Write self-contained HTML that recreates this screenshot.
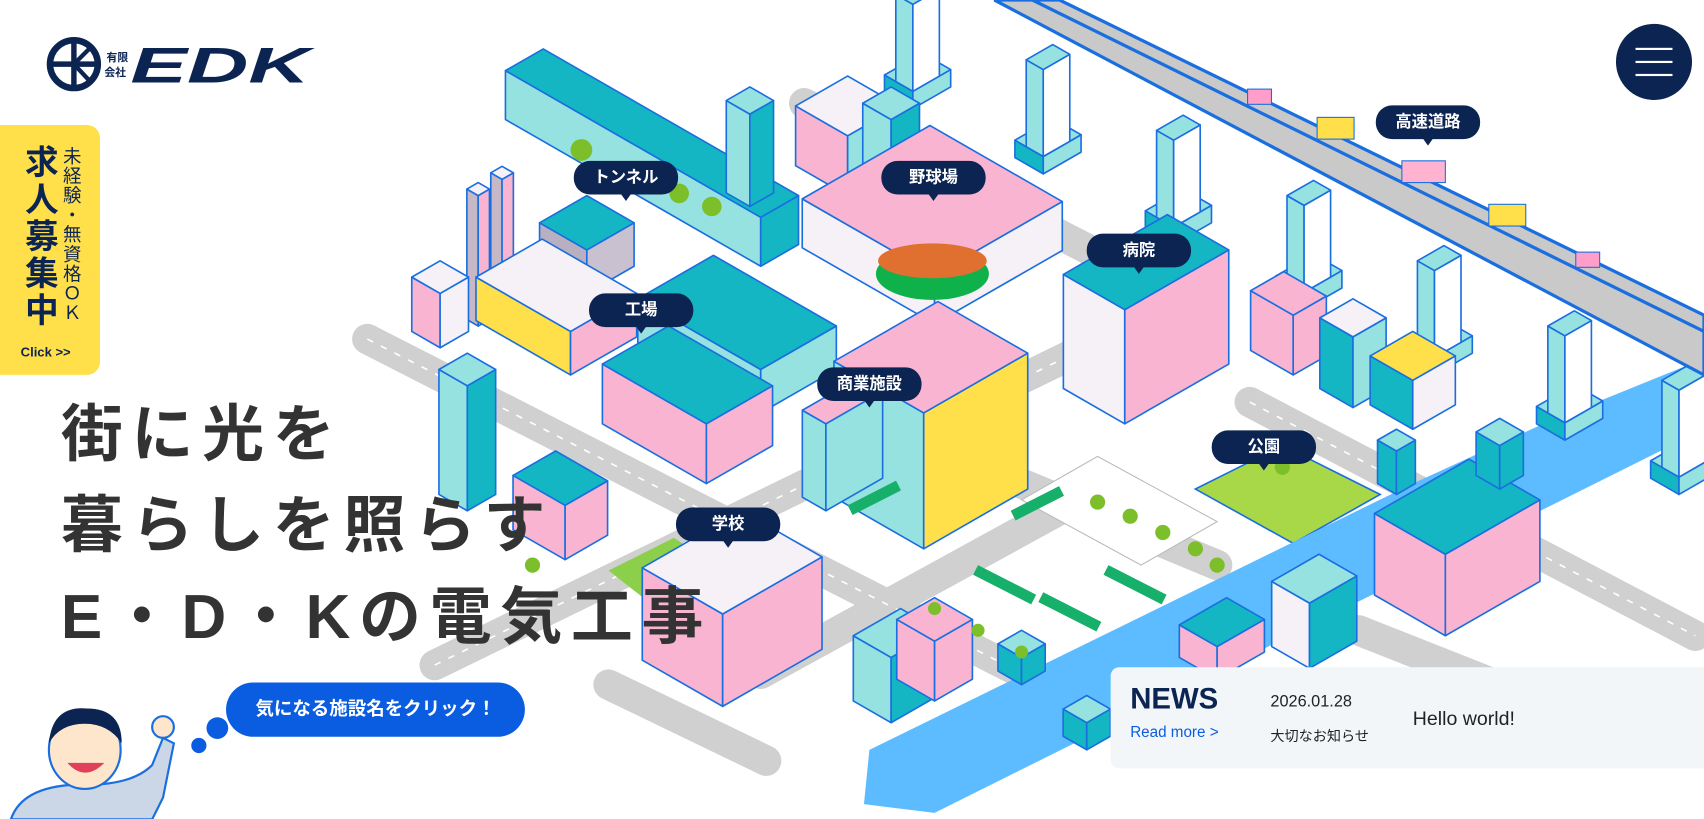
<!DOCTYPE html>
<html><head><meta charset="utf-8">
<style>
html,body{margin:0;padding:0;width:1704px;height:819px;overflow:hidden;background:#fff}
#s{position:absolute;left:0;top:0;width:1568px;height:754px;transform:scale(1.08673);transform-origin:0 0;font-family:"Liberation Sans","Noto Sans CJK JP",sans-serif}
svg{position:absolute;left:0;top:0}
.lbl{position:absolute;width:96px;height:31px;margin-left:-48px;background:#0c2452;color:#fff;border-radius:15px;font-size:15px;font-weight:bold;text-align:center;line-height:31px}
.lbl:after{content:"";position:absolute;left:43px;bottom:-6px;border-left:5px solid transparent;border-right:5px solid transparent;border-top:7px solid #0c2452}
</style></head><body>
<div id="s">
<svg id="g" width="1568" height="754" viewBox="0 0 1568 754">
<g stroke="#d0d0d0" stroke-linecap="round" fill="none" stroke-width="28">
<path d="M338 312 L1000 650"/>
<path d="M740 95 L1090 275"/>
<path d="M400 612 L1040 300"/>
<path d="M560 630 L705 700"/>
<path d="M1150 370 L1560 585"/>
<path d="M1250 580 L1440 655"/>
<path d="M700 620 L1010 450"/>
<path d="M880 420 L1120 520"/>
</g>
<g stroke="#fff" stroke-width="1.5" stroke-dasharray="6 8" fill="none">
<path d="M338 312 L1000 650"/><path d="M400 612 L1040 300"/><path d="M1150 370 L1560 585"/>
</g>
<polygon points="940,460 1010,420 1120,480 1050,520" fill="#fff" stroke="#bbb"/>
<polygon points="1100,450 1180,410 1270,455 1190,500" fill="#a8d848" stroke="#1a6fe0" stroke-width="1.5"/>
<polygon points="560,525 620,495 690,540 630,580" fill="#8ccf4a"/>
<polygon points="795,740 860,748 1568,395 1568,330 1420,390 1300,445 800,690" fill="#5cbcff"/>
<g id="hw"></g>
<polygon points="915,0 975,0 1568,290 1568,345" fill="#c9c9c9" stroke="#1a6fe0" stroke-width="3"/>
<line x1="950" y1="0" x2="1568" y2="305" stroke="#1a6fe0" stroke-width="3"/>
<g id="bx"></g>
<ellipse cx="858" cy="252" rx="52" ry="24" fill="#0fb24a"/>
<ellipse cx="858" cy="240" rx="50" ry="16" fill="#e07030"/>
<g fill="#7cbf2a"><circle cx="535" cy="138" r="10"/><circle cx="625" cy="178" r="9"/><circle cx="655" cy="190" r="9"/><circle cx="1010" cy="462" r="7"/><circle cx="1040" cy="475" r="7"/><circle cx="1070" cy="490" r="7"/><circle cx="1100" cy="505" r="7"/><circle cx="1120" cy="520" r="7"/><circle cx="860" cy="560" r="6"/><circle cx="900" cy="580" r="6"/><circle cx="940" cy="600" r="6"/><circle cx="490" cy="520" r="7"/><circle cx="1180" cy="430" r="7"/></g>
<g fill="#16b06a"><rect x="900" y="520" width="60" height="10" transform="rotate(27 900 520)"/><rect x="960" y="545" width="60" height="10" transform="rotate(27 960 545)"/><rect x="1020" y="520" width="60" height="10" transform="rotate(27 1020 520)"/><rect x="930" y="470" width="50" height="10" transform="rotate(-27 930 470)"/><rect x="780" y="465" width="50" height="10" transform="rotate(-27 780 465)"/></g>
<g fill="#ff9ec8" stroke="#1a6fe0"><rect x="1148" y="82" width="22" height="14"/><rect x="1290" y="148" width="40" height="20" fill="#ffb3d0"/><rect x="1450" y="232" width="22" height="14"/></g>
<g fill="#ffe04a" stroke="#1a6fe0"><rect x="1212" y="108" width="34" height="20"/><rect x="1370" y="188" width="34" height="20"/></g>
</svg>
<div class="lbl" style="left:576px;top:148px">トンネル</div>
<div class="lbl" style="left:859px;top:148px">野球場</div>
<div class="lbl" style="left:1314px;top:97px">高速道路</div>
<div class="lbl" style="left:1048px;top:215px">病院</div>
<div class="lbl" style="left:590px;top:270px">工場</div>
<div class="lbl" style="left:800px;top:338px">商業施設</div>
<div class="lbl" style="left:1163px;top:396px">公園</div>
<div class="lbl" style="left:670px;top:467px">学校</div>

<svg width="300" height="100" style="left:36px;top:26px">
<circle cx="32" cy="33" r="22" fill="none" stroke="#0c2452" stroke-width="6"/>
<line x1="10" y1="33" x2="54" y2="33" stroke="#0c2452" stroke-width="5"/>
<line x1="32" y1="11" x2="32" y2="55" stroke="#0c2452" stroke-width="5"/>
<line x1="32" y1="33" x2="48" y2="17" stroke="#0c2452" stroke-width="4"/>
<line x1="32" y1="33" x2="48" y2="50" stroke="#0c2452" stroke-width="4"/>
<text x="62" y="30" font-size="10" font-weight="bold" fill="#0c2452" font-family="Noto Sans CJK JP,sans-serif">有限</text>
<text x="60" y="44" font-size="10" font-weight="bold" fill="#0c2452" font-family="Noto Sans CJK JP,sans-serif">会社</text>
<text x="84" y="50" font-size="46" font-weight="bold" font-style="italic" fill="#0c2452" font-family="Liberation Sans,sans-serif" textLength="165" lengthAdjust="spacingAndGlyphs">EDK</text>
</svg>

<div style="position:absolute;left:0;top:115px;width:92px;height:230px;background:#ffe04a;border-radius:0 12px 12px 0">
<div style="position:absolute;left:18px;top:18px;writing-mode:vertical-rl;font-size:31px;font-weight:bold;color:#0c2452;letter-spacing:3px;line-height:34px">求人募集中</div>
<div style="position:absolute;left:54px;top:20px;writing-mode:vertical-rl;font-size:17px;color:#0c2452;line-height:20px;letter-spacing:1px">未経験・無資格ＯＫ</div>
<div style="position:absolute;left:19px;top:202px;font-size:12px;font-weight:bold;color:#0c2452">Click &gt;&gt;</div>
</div>

<div style="position:absolute;left:56px;top:358px;font-size:57px;font-weight:bold;color:#333;line-height:84px;letter-spacing:8px;font-family:'Liberation Sans','Noto Sans CJK JP',sans-serif;white-space:nowrap">街に光を<br>暮らしを照らす<br>E・D・Kの電気工事</div>

<div style="position:absolute;left:208px;top:628px;width:275px;height:50px;border-radius:25px;background:#0a5de0;color:#fff;font-size:17px;font-weight:bold;text-align:center;line-height:50px">気になる施設名をクリック！</div>
<svg width="240" height="130" style="left:0;top:624px">
<circle cx="200" cy="46" r="10" fill="#0a5de0"/><circle cx="183" cy="62" r="7" fill="#0a5de0"/>
<path d="M10 130 Q20 100 70 98 Q120 100 140 80 L150 55 L160 60 L150 110 Q140 130 140 130Z" fill="#cbd6e6" stroke="#1a6fe0" stroke-width="2"/>
<circle cx="150" cy="45" r="10" fill="#fde6cc" stroke="#1a6fe0" stroke-width="2"/>
<ellipse cx="78" cy="66" rx="33" ry="36" fill="#fde6cc" stroke="#1a6fe0" stroke-width="2"/>
<path d="M45 60 Q48 25 80 28 Q112 28 112 60 Q100 42 78 42 Q55 42 45 60Z" fill="#0c2452"/>
<path d="M62 78 Q78 96 96 78Z" fill="#e0405a"/>
</svg>

<div style="position:absolute;left:1022px;top:614px;width:546px;height:93px;background:#f3f6f9;border-radius:8px 0 0 8px">
<div style="position:absolute;left:18px;top:14px;font-size:27px;font-weight:bold;color:#0c2452">NEWS</div>
<div style="position:absolute;left:18px;top:51px;font-size:14px;color:#0a5de0">Read more &gt;</div>
<div style="position:absolute;left:147px;top:23px;font-size:15px;color:#222">2026.01.28</div>
<div style="position:absolute;left:147px;top:53px;font-size:13px;color:#222">大切なお知らせ</div>
<div style="position:absolute;left:278px;top:37px;font-size:18px;color:#222">Hello world!</div>
</div>

<div style="position:absolute;left:1487px;top:22px;width:70px;height:70px;border-radius:50%;background:#0c2452">
<div style="position:absolute;left:18px;top:22px;width:34px;height:2px;background:#fff"></div>
<div style="position:absolute;left:18px;top:34px;width:34px;height:2px;background:#fff"></div>
<div style="position:absolute;left:18px;top:46px;width:34px;height:2px;background:#fff"></div>
</div>
</div>
<script>
var NS="http://www.w3.org/2000/svg";
function poly(g,pts,f){var p=document.createElementNS(NS,"polygon");p.setAttribute("points",pts.map(function(q){return q[0].toFixed(1)+","+q[1].toFixed(1)}).join(" "));p.setAttribute("fill",f);p.setAttribute("stroke","#1a6fe0");p.setAttribute("stroke-width","1.5");p.setAttribute("stroke-linejoin","round");g.appendChild(p);}
function box(g,x,y,a,b,h,L,R,T){var c=.87,s=.5;
poly(g,[[x,y],[x-a*c,y-a*s],[x-a*c,y-a*s-h],[x,y-h]],L);
poly(g,[[x,y],[x+b*c,y-b*s],[x+b*c,y-b*s-h],[x,y-h]],R);
poly(g,[[x,y-h],[x-a*c,y-a*s-h],[x-a*c+b*c,y-(a+b)*s-h],[x+b*c,y-b*s-h]],T);}
var P="#f8b4d0",C="#96e2e0",TE="#13b6c2",Y="#ffe04a",W="#f6f1f6";
var hw=document.getElementById("hw");
[[840,100],[960,160],[1080,225],[1200,285],[1320,345],[1440,405],[1545,455]].forEach(function(p){
 box(hw,p[0],p[1],30,40,16,TE,C,C);
 box(hw,p[0],p[1]-16,18,28,80,C,"#fff",C);});
var g=document.getElementById("bx");
var B=[
[700,245,270,40,45,C,TE,TE],
[440,300,12,12,120,"#c7b8c8",P,W],[462,290,12,12,125,"#c7b8c8",P,W],
[540,270,50,50,40,"#b8b0c0","#c9c0d0",TE],
[405,320,30,30,50,P,W,W],
[525,345,100,70,40,Y,P,W],
[700,380,130,80,40,C,C,TE],
[650,445,110,70,55,P,P,TE],
[690,190,25,25,85,C,TE,C],
[780,180,55,55,55,P,C,W],
[820,180,30,30,70,C,TE,C],
[860,298,140,135,45,W,W,P],
[430,470,30,30,115,C,TE,C],
[520,515,55,45,50,P,P,TE],
[850,505,95,110,125,C,Y,P],
[760,470,25,60,80,C,C,P],
[1035,390,65,110,105,W,P,TE],
[1190,345,45,35,55,P,P,P],
[1245,375,35,35,65,TE,C,W],
[1300,395,45,45,45,TE,W,Y],
[1330,585,75,100,75,P,P,TE],
[1205,615,40,50,60,W,TE,C],
[1120,625,40,50,30,P,P,TE],
[665,650,85,105,85,P,P,W],
[820,665,40,50,60,C,TE,C],
[860,645,40,40,55,P,P,P],
[1000,690,25,25,25,TE,TE,C],
[940,630,25,25,25,TE,TE,C],
[1380,450,25,25,40,TE,TE,C],
[1285,455,20,20,40,TE,TE,C]
];
B.forEach(function(b){box(g,b[0],b[1],b[2],b[3],b[4],b[5],b[6],b[7]);});
</script>
</body></html>
